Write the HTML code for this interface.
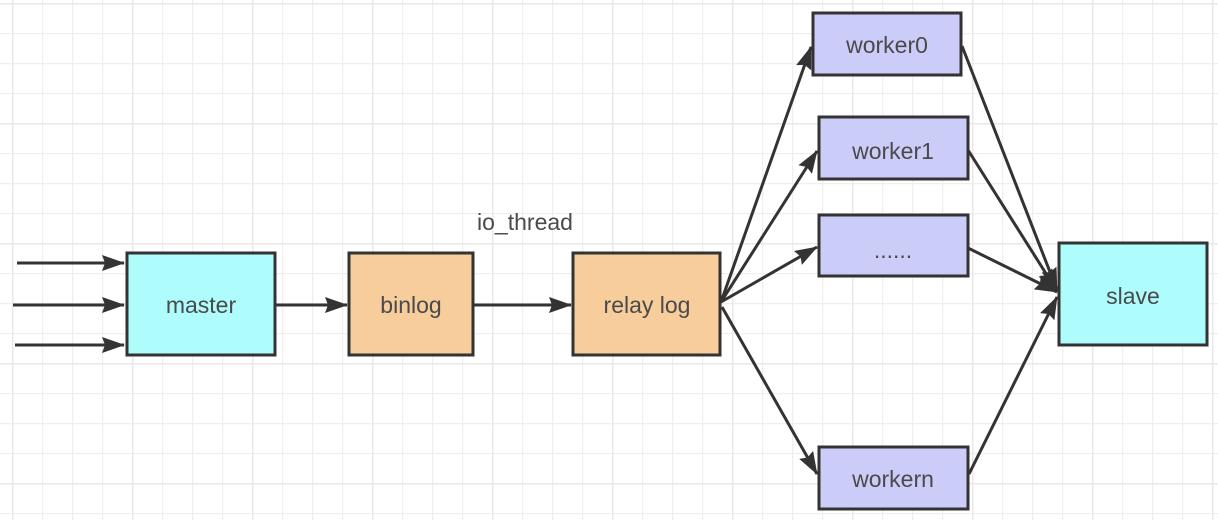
<!DOCTYPE html>
<html><head><meta charset="utf-8"><style>
html,body{margin:0;padding:0;background:#fff}
svg{display:block}
text{font-family:"Liberation Sans",sans-serif;font-size:23px;fill:#4a4a4a}
</style></head><body>
<svg width="1218" height="520" viewBox="0 0 1218 520" xmlns="http://www.w3.org/2000/svg">
<defs>
<pattern id="g" x="12" y="3" width="30" height="30" patternUnits="userSpaceOnUse">
<path d="M0.5 0V30M0 0.5H30" stroke="#efefef" stroke-width="1.5" fill="none"/>
</pattern>
<pattern id="G" x="12" y="3" width="120" height="120" patternUnits="userSpaceOnUse">
<path d="M0.5 0V120M0 0.5H120" stroke="#e8e8e8" stroke-width="2" fill="none"/>
</pattern>
<marker id="b" markerWidth="24" markerHeight="18" refX="22" refY="9" orient="auto" markerUnits="userSpaceOnUse">
<path d="M0 1L23 9L0 17L3 9Z" fill="#333"/>
</marker>
</defs>
<rect width="1218" height="520" fill="url(#g)"/>
<rect width="1218" height="520" fill="url(#G)"/>
<g stroke="#333" stroke-width="3" fill="none" marker-end="url(#b)">
<line x1="17" y1="263" x2="124" y2="263"/>
<line x1="13" y1="305" x2="124" y2="305"/>
<line x1="15" y1="345" x2="124" y2="345"/>
<line x1="276" y1="305" x2="347" y2="305"/>
<line x1="474" y1="305" x2="571" y2="305"/>
<line x1="721" y1="302" x2="811" y2="47"/>
<line x1="721" y1="302" x2="817" y2="151"/>
<line x1="721" y1="302" x2="817" y2="247"/>
<line x1="722" y1="307" x2="817" y2="474"/>
<line x1="962" y1="46" x2="1057" y2="290"/>
<line x1="968" y1="150" x2="1057" y2="291"/>
<line x1="968" y1="248" x2="1057" y2="292"/>
<line x1="969" y1="474" x2="1057" y2="297"/>
</g>
<g stroke="#333" stroke-width="3">
<rect x="127" y="253" width="148" height="102" fill="#aefcfc"/>
<rect x="349" y="253" width="124" height="102" fill="#f7cd9c"/>
<rect x="573" y="253" width="147" height="102" fill="#f7cd9c"/>
<rect x="813" y="13" width="148" height="62" fill="#ccccf8"/>
<rect x="819" y="117" width="149" height="62" fill="#ccccf8"/>
<rect x="819" y="215" width="149" height="61" fill="#ccccf8"/>
<rect x="819" y="447" width="149" height="62" fill="#ccccf8"/>
<rect x="1059" y="243" width="148" height="102" fill="#aefcfc"/>
</g>
<g text-anchor="middle">
<text x="201" y="313">master</text>
<text x="411" y="313">binlog</text>
<text x="647" y="313">relay log</text>
<text x="525" y="230">io_thread</text>
<text x="887" y="53">worker0</text>
<text x="893" y="159">worker1</text>
<text x="893" y="258">......</text>
<text x="893" y="487">workern</text>
<text x="1133" y="304">slave</text>
</g>
</svg>
</body></html>
